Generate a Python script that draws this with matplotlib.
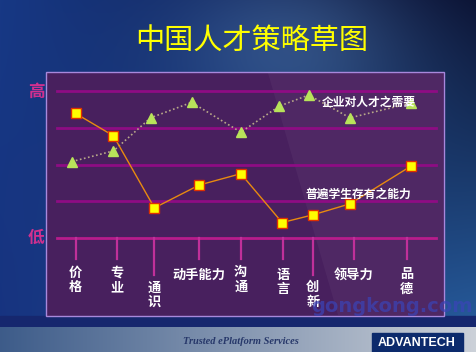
import numpy as np
import matplotlib
matplotlib.use("Agg")
import matplotlib.pyplot as plt
from matplotlib.patches import Rectangle, Polygon

plt.rcParams['font.family'] = ['Noto Sans CJK SC', 'DejaVu Sans']

# ---- data ----
categories = ['价格', '专业', '通识', '动手能力', '沟通', '语言', '创新', '领导力', '品德']
cat_pos = [4.9, 15.8, 25.6, 37.5, 48.5, 59.6, 67.5, 78.4, 92.3]   # position along the axis (0-100)

# 企业对人才之需要 (triangles), level 0 = 低, 4 = 高
need_x = [3.9, 14.9, 24.7, 35.5, 48.5, 58.7, 66.4, 77.3, 93.3]
need_y = [2.08, 2.37, 3.27, 3.69, 2.88, 3.59, 3.89, 3.27, 3.67]

# 普遍学生存有之能力 (squares)
have_x = [4.9, 14.9, 25.7, 37.5, 48.5, 59.4, 67.5, 77.3, 93.3]
have_y = [3.39, 2.78, 0.82, 1.44, 1.75, 0.42, 0.63, 0.93, 1.95]

levels = [0, 1, 2, 3, 4]

W, H = 476, 352
fig = plt.figure(figsize=(W / 100, H / 100), dpi=100)

# ---- background (pixel coordinates) ----
bg = fig.add_axes([0, 0, 1, 1])
bg.set_xlim(0, W)
bg.set_ylim(H, 0)
bg.axis('off')

xx, yy = np.meshgrid(np.linspace(0, 1, W), np.linspace(0, 1, H))
tl = np.array([0.09, 0.22, 0.52])
tr = np.array([0.04, 0.07, 0.20])
bl = np.array([0.09, 0.20, 0.50])
br = np.array([0.16, 0.38, 0.64])
img = (tl * ((1 - xx) * (1 - yy))[..., None] + tr * (xx * (1 - yy))[..., None]
       + bl * ((1 - xx) * yy)[..., None] + br * (xx * yy)[..., None])
glow = np.exp(-(((xx - 0.62) / 0.25) ** 2 + ((yy - 0.12) / 0.25) ** 2))
img = img + glow[..., None] * np.array([0.12, 0.16, 0.16])
bg.imshow(np.clip(img, 0, 1), extent=[0, W, H, 0], aspect='auto', zorder=0)

# footer band
bg.add_patch(Rectangle((0, 316), W, 11, color='#16276e', zorder=1))
fx = np.linspace(0, 1, 200)
band = np.array([0.24, 0.36, 0.54])[None, :] * (1 - fx[:, None]) + np.array([0.80, 0.82, 0.85])[None, :] * fx[:, None]
bg.imshow(np.clip(band, 0, 1)[None, :, :], extent=[0, W, H, 327], aspect='auto', zorder=1)
bg.text(241, 342, 'Trusted ePlatform Services', family='Liberation Serif', style='italic',
        weight='bold', color='#27386a', fontsize=7.5, ha='center', va='center', zorder=2)
bg.add_patch(Rectangle((372, 333), 91, 19, color='#0c2a6c', zorder=2))
bg.text(417, 343, 'ADVANTECH', family='Liberation Sans', weight='bold', color='white',
        fontsize=9, ha='center', va='center', zorder=3)

# title
bg.text(252, 42, '中国人才策略草图', color='#ffff00', fontsize=21, ha='center', va='center', zorder=3)

# panel
bg.add_patch(Rectangle((45.5, 72), 398.5, 244, facecolor='#48205e', edgecolor='#a888dc', lw=1.0, zorder=2))
bg.add_patch(Polygon([(268, 73), (443, 73), (443, 315), (338, 315)], closed=True,
                     facecolor='#ffffff', alpha=0.04, lw=0, zorder=2))
bg.text(36, 92, '高', color='#d0308f', fontsize=12, weight='bold', ha='center', va='center', zorder=3)
bg.text(36, 238, '低', color='#d0308f', fontsize=12, weight='bold', ha='center', va='center', zorder=3)

# ---- chart axes ----
left, right, top, bottom = 57, 436, 91, 238
ax = fig.add_axes([left / W, 1 - bottom / H, (right - left) / W, (bottom - top) / H])
ax.set_xlim(0, 100)
ax.set_ylim(0, 4)
ax.axis('off')
ax.patch.set_alpha(0)

for lv in levels:
    c = '#b81c8c' if lv == 0 else '#8e0c84'
    ax.axhline(lv, color=c, lw=2.0, zorder=1, clip_on=False)

# tick marks and category labels
tick_len = [0.57, 0.57, 1.0, 0.57, 0.57, 0.57, 1.0, 0.57, 0.57]
label_top = [0.75, 0.75, 1.15, 0.85, 0.73, 0.8, 1.15, 0.85, 0.8]
for x, name, tl_, lt in zip(cat_pos, categories, tick_len, label_top):
    ax.plot([x, x], [0, -tl_], color='#c0309a', lw=1.6, clip_on=False, zorder=1)
    txt = name if len(name) > 2 else '\n'.join(name)
    va = 'center' if len(name) > 2 else 'top'
    ax.text(x, -lt - (0.0 if len(name) <= 2 else 0.15), txt, color='white', weight='bold',
            fontsize=9.5, ha='center', va=va, linespacing=1.05, clip_on=False)

ax.plot(need_x, need_y, color='#b8a888', lw=1.2, ls=(0, (1, 1.5)), marker='^', ms=7,
        mfc='#b8e35a', mec='#b8e35a', clip_on=False, zorder=3)
ax.plot(have_x, have_y, color='#e88a10', lw=1.0, marker='s', ms=7,
        mfc='#ffff00', mec='#e03000', mew=1.0, clip_on=False, zorder=4)

ax.text(82.4, 3.69, '企业对人才之需要', color='white', weight='bold', fontsize=8.5,
        ha='center', va='center', zorder=5)
ax.text(79.4, 1.2, '普遍学生存有之能力', color='white', weight='bold', fontsize=8.5,
        ha='center', va='center', zorder=5)

# watermark
bg2 = fig.add_axes([0, 0, 1, 1])
bg2.set_xlim(0, W)
bg2.set_ylim(H, 0)
bg2.axis('off')
bg2.patch.set_alpha(0)
bg2.text(392, 306, 'gongkong.com', color='#3a44b8', alpha=0.7, weight='bold',
         family='DejaVu Sans', fontsize=14, ha='center', va='center')

fig.savefig('out.png', dpi=100)
